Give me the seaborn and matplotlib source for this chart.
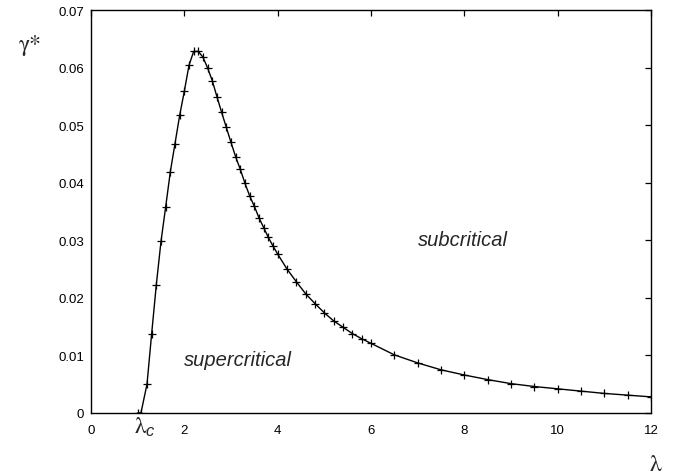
import matplotlib
matplotlib.use('Agg')
import matplotlib.pyplot as plt
import seaborn as sns
import pandas as pd

# values
lam = [1.0, 1.07, 1.2, 1.3, 1.4, 1.5, 1.6, 1.7, 1.8, 1.9,
       2.0, 2.1, 2.2, 2.3, 2.4, 2.5, 2.6, 2.7, 2.8, 2.9,
       3.0, 3.1, 3.2, 3.3, 3.4, 3.5, 3.6, 3.7, 3.8, 3.9,
       4.0, 4.2, 4.4, 4.6, 4.8, 5.0, 5.2, 5.4, 5.6, 5.8,
       6.0, 6.5, 7.0, 7.5, 8.0, 8.5, 9.0, 9.5, 10.0, 10.5,
       11.0, 11.5, 12.0]
gamma = [0.0, 0.0, 0.0050, 0.0138, 0.0223, 0.0298, 0.0358, 0.0419, 0.0468, 0.0517,
         0.0559, 0.0604, 0.0628, 0.0628, 0.0618, 0.0599, 0.0577, 0.0549, 0.0522, 0.0496,
         0.0470, 0.0445, 0.0423, 0.0399, 0.0377, 0.0359, 0.0339, 0.0322, 0.0305, 0.0290,
         0.0276, 0.0250, 0.0228, 0.0207, 0.0190, 0.0174, 0.0160, 0.0149, 0.0138, 0.0129,
         0.0121, 0.0101, 0.0087, 0.0075, 0.0066, 0.0058, 0.0051, 0.0046, 0.0042, 0.0038,
         0.0034, 0.0031, 0.0028]
x_ticks = [0, 2, 4, 6, 8, 10, 12]
y_ticks = [0, 0.01, 0.02, 0.03, 0.04, 0.05, 0.06, 0.07]
y_ticklabels = ['0', '0.01', '0.02', '0.03', '0.04', '0.05', '0.06', '0.07']

df = pd.DataFrame({'lam': lam, 'gamma': gamma})

sns.set_style('white')
plt.rcParams['font.family'] = ['Liberation Sans', 'DejaVu Sans']
plt.rcParams['mathtext.fontset'] = 'custom'
plt.rcParams['mathtext.rm'] = 'STIXGeneral'
plt.rcParams['mathtext.it'] = 'Liberation Sans:italic'

fig = plt.figure(figsize=(6.73, 4.77), dpi=100)
ax = fig.add_axes([91 / 673, 1 - 414 / 477, 560 / 673, 403 / 477])

sns.lineplot(data=df, x='lam', y='gamma', ax=ax, color='black', linewidth=1.0,
             marker='+', markersize=6, markeredgewidth=0.9, markeredgecolor='black')

ax.set_xlim(0, 12)
ax.set_ylim(0, 0.07)
ax.set_xticks(x_ticks)
ax.set_xticklabels([str(t) for t in x_ticks])
ax.set_yticks(y_ticks)
ax.set_yticklabels(y_ticklabels)
ax.set_xlabel('')
ax.set_ylabel('')

ax.tick_params(axis='both', direction='in', length=4.5, width=0.9,
               top=True, right=True, labelsize=9.5, colors='black')
ax.tick_params(axis='x', pad=8)
ax.tick_params(axis='y', pad=5)
for s in ax.spines.values():
    s.set_color('black')
    s.set_linewidth(1.0)

# region labels
ax.text(7.0, 0.0291, 'subcritical', style='italic', fontsize=14.5)
ax.text(2.0, 0.0084, 'supercritical', style='italic', fontsize=14.5)
ax.text(1.15, -0.0023, r'$\mathrm{\lambda}_{c}$', fontsize=17, ha='center',
        va='center', clip_on=False)

fig.text(30 / 673, 1 - 45 / 477, 'γ*', family='STIXGeneral', fontsize=17,
         ha='center', va='center')
fig.text(656 / 673, 1 - 465 / 477, 'λ', family='STIXGeneral', fontsize=17,
         ha='center', va='center')

fig.savefig('out.png', dpi=100)
